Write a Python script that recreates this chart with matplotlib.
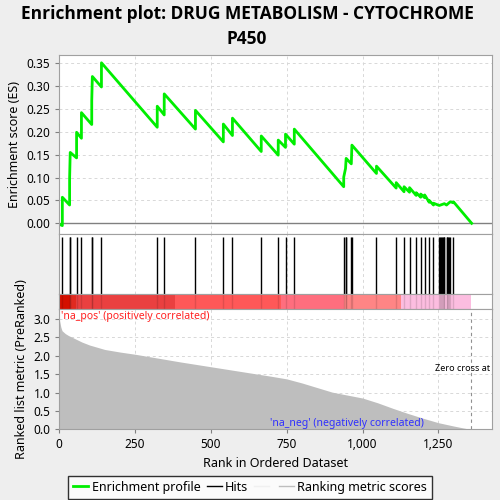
import matplotlib
matplotlib.use("Agg")
import matplotlib.pyplot as plt
from matplotlib.lines import Line2D

plt.rcParams['font.family'] = ['Noto Sans', 'DejaVu Sans']

# positions of the gene set members in the ranked list
hit_ranks = [10, 34, 36, 57, 73, 107, 109, 139, 323, 346, 449, 541, 571, 666, 722,
             746, 775, 938, 944, 946, 963, 965, 1046, 1111, 1137, 1155, 1177, 1192,
             1205, 1220, 1234, 1253, 1256, 1259, 1262, 1265, 1268, 1270, 1277, 1280,
             1283, 1286, 1289, 1300]

es_ranks = [0, 10, 10, 34, 34, 36, 57, 57, 73, 73, 107, 107, 109, 139, 139,
            323, 323, 346, 346, 449, 449, 541, 541, 571, 571, 666, 666, 722, 722,
            746, 746, 775, 775, 938, 938, 944, 946, 963, 965, 1046, 1046, 1111, 1111,
            1137, 1137, 1155, 1155, 1177, 1177, 1192, 1192, 1205, 1205, 1220, 1220,
            1234, 1234, 1253, 1270, 1277, 1289, 1300, 1300, 1360]
es_vals = [-0.002, -0.005, 0.057, 0.040, 0.098, 0.155, 0.143, 0.199, 0.186, 0.242,
           0.216, 0.268, 0.321, 0.298, 0.351,
           0.210, 0.256, 0.237, 0.283, 0.206, 0.247, 0.178, 0.217, 0.192, 0.230,
           0.157, 0.191, 0.149, 0.182, 0.166, 0.195, 0.173, 0.206, 0.080, 0.101,
           0.120, 0.142, 0.130, 0.171, 0.109, 0.125, 0.077, 0.089, 0.069, 0.080,
           0.068, 0.078, 0.061, 0.067, 0.057, 0.064, 0.056, 0.062, 0.046, 0.050,
           0.040, 0.044, 0.039, 0.043, 0.040, 0.047, 0.045, 0.047, 0.0]

# ranked list metric (PreRanked), read at a few ranks
metric_ranks = [0, 1, 5, 9, 20, 30, 50, 75, 100, 150, 200, 250, 300, 400, 500, 600,
                700, 750, 800, 900, 1000, 1050, 1100, 1150, 1200, 1250, 1300, 1330, 1357]
metric_vals = [3.05, 2.95, 2.78, 2.68, 2.60, 2.55, 2.47, 2.37, 2.29, 2.17, 2.10, 2.04,
               1.97, 1.83, 1.70, 1.57, 1.44, 1.37, 1.26, 1.01, 0.85, 0.72, 0.57, 0.43,
               0.30, 0.18, 0.09, 0.04, 0.0]

# colour bar segments (start rank, end rank, colour)
bar_edges = [0, 35, 54, 381, 732, 940, 1126, 1357]
bar_colors = ['#d41000', '#e02a20', '#ea4040', '#ff5858', '#ff6e7e', '#ff8585', '#fcbde0']

n_ranked = 1357
x_max = 1428

fig = plt.figure(figsize=(5, 5), dpi=100)
fig.patch.set_facecolor('#eeeeee')

left, width = 0.1186, 0.866
ax_es = fig.add_axes([left, 0.5314, width, 0.3586])
ax_hit = fig.add_axes([left, 0.4114, width, 0.12])
ax_bar = fig.add_axes([left, 0.382, width, 0.0294])
ax_met = fig.add_axes([left, 0.1414, width, 0.2406])

xticks = [0, 250, 500, 750, 1000, 1250]
grid_kw = dict(color='#d8d8d8', linestyle=(0, (3, 3)), linewidth=0.7)

for ax in (ax_es, ax_hit, ax_bar, ax_met):
    ax.set_xlim(0, x_max)
    for s in ax.spines.values():
        s.set_color('#a0a0a0')
    ax.tick_params(labelsize=8.5, color='#808080', length=3)

# enrichment score
ax_es.set_ylim(-0.024, 0.368)
ax_es.set_yticks([0, 0.05, 0.10, 0.15, 0.20, 0.25, 0.30, 0.35])
ax_es.set_yticklabels(['0.00', '0.05', '0.10', '0.15', '0.20', '0.25', '0.30', '0.35'])
ax_es.set_xticks(xticks)
ax_es.tick_params(labelbottom=False, bottom=False)
ax_es.grid(True, **grid_kw)
ax_es.set_axisbelow(True)
ax_es.axhline(0, color='#808080', linewidth=1)
ax_es.plot(es_ranks, es_vals, color='#00ee00', linewidth=2)
ax_es.set_ylabel('Enrichment score (ES)', fontsize=9)
fig.text(0.494, 0.947, 'Enrichment plot: DRUG METABOLISM - CYTOCHROME\nP450',
         fontsize=12.5, fontweight='bold', ha='center', va='center',
         family=['Open Sans', 'DejaVu Sans'], linespacing=1.5)

# hits
ax_hit.set_ylim(0, 1)
ax_hit.set_xticks(xticks)
ax_hit.set_yticks([])
ax_hit.tick_params(labelbottom=False, bottom=False)
ax_hit.grid(True, axis='x', **grid_kw)
ax_hit.vlines(hit_ranks, 0, 0.96, color='black', linewidth=1)

# colour bar
ax_bar.set_ylim(0, 1)
ax_bar.set_xticks([])
ax_bar.set_yticks([])
for i, c in enumerate(bar_colors):
    ax_bar.axvspan(bar_edges[i], bar_edges[i + 1], color=c, linewidth=0)
ax_bar.vlines(hit_ranks, 0, 1, color='#000000', alpha=0.12, linewidth=1)

# ranked list metric
ax_met.set_ylim(0, 3.27)
ax_met.set_yticks([0, 0.5, 1.0, 1.5, 2.0, 2.5, 3.0])
ax_met.set_yticklabels(['0.0', '0.5', '1.0', '1.5', '2.0', '2.5', '3.0'])
ax_met.set_xticks(xticks)
ax_met.set_xticklabels(['0', '250', '500', '750', '1,000', '1,250'])
ax_met.grid(True, **grid_kw)
ax_met.set_axisbelow(True)
ax_met.fill_between(metric_ranks, 0, metric_vals, color='#bebebe', linewidth=0)
ax_met.axvline(n_ranked, color='#909090', linestyle=(0, (3, 3)), linewidth=0.8)
ax_met.text(6, 3.22, "'na_pos' (positively correlated)", color='#ff2020',
            fontsize=7.5, va='top', ha='left')
ax_met.text(950, 0.02, "'na_neg' (negatively correlated)", color='#3030ff',
            fontsize=7.5, va='bottom', ha='center')
ax_met.text(1240, 1.65, 'Zero cross at 1357', fontsize=6.5, va='center',
            ha='left', clip_on=True)
ax_met.set_xlabel('Rank in Ordered Dataset', fontsize=9)
ax_met.set_ylabel('Ranked list metric (PreRanked)', fontsize=9)

handles = [Line2D([], [], color='#00ee00', linewidth=2),
           Line2D([], [], color='black', linewidth=1),
           Line2D([], [], color='#f0f0f0', linewidth=1),
           Line2D([], [], color='#bebebe', linewidth=1)]
labels = ['Enrichment profile', 'Hits', '', 'Ranking metric scores']
leg = fig.legend(handles, labels, loc='lower center', bbox_to_anchor=(0.5, 0.0),
                 ncol=4, fontsize=9, frameon=True, fancybox=False,
                 handlelength=1.2, handletextpad=0.25, columnspacing=0.5,
                 borderpad=0.4, borderaxespad=0.1)
leg.get_frame().set_edgecolor('black')
leg.get_frame().set_linewidth(1)

fig.savefig('out.png', dpi=100, facecolor=fig.get_facecolor())
